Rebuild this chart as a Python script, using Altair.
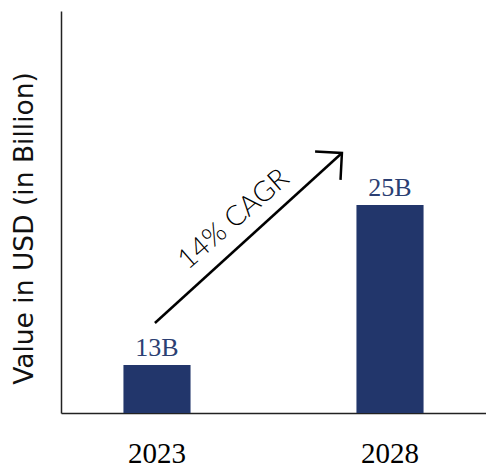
import altair as alt
import pandas as pd

years = ["2023", "2028"]
values = [13, 25]
labels = ["13B", "25B"]

# annotation (arrow + CAGR text), x as fraction of plot width, y in value units
arrow_x = [0.221, 0.661]
arrow_y = [16.15, 28.9]
cagr_text = ["14% CAGR"]
cagr_x = [0.407]
cagr_y = [23.9]

Y_MIN, Y_MAX = 9.4, 39.55
NAVY = "#22366b"

bars_df = pd.DataFrame({"year": years, "value": values, "label": labels})
arrow_df = pd.DataFrame({"fx": arrow_x, "fy": arrow_y})
head_df = arrow_df.iloc[[-1]]
text_df = pd.DataFrame({"fx": cagr_x, "fy": cagr_y, "t": cagr_text})

xband = alt.X("year:N", sort=years,
              scale=alt.Scale(paddingInner=0.712, paddingOuter=0.268),
              axis=alt.Axis(title=None, labelAngle=0, ticks=False, labelPadding=26,
                            labelFont="Liberation Serif", labelFontSize=29,
                            labelColor="#000000", domainColor="#222222", domainWidth=1.5))
yenc = alt.Y("value:Q", scale=alt.Scale(domain=[Y_MIN, Y_MAX], nice=False, zero=False),
             axis=alt.Axis(title="Value in USD (in Billion)", labels=False, ticks=False,
                           grid=False, domainColor="#222222", domainWidth=1.5,
                           titleFont="DejaVu Sans", titleFontSize=26.5, titleFontWeight="normal",
                           titleColor="#111111", titleX=-37, titleY=217,
                           titleBaseline="middle", titleAlign="center", titleAngle=270))

bars = alt.Chart(bars_df).mark_bar(color=NAVY).encode(
    x=xband, y=yenc, y2=alt.Y2(datum=Y_MIN))
bar_text = alt.Chart(bars_df).mark_text(
    baseline="bottom", dy=-4, font="Liberation Serif", fontSize=26, color="#2b3f73"
).encode(x=alt.X("year:N", sort=years), y=alt.Y("value:Q"), text="label:N")

base = alt.layer(bars, bar_text)

fx = alt.X("fx:Q", scale=alt.Scale(domain=[0, 1], nice=False, zero=False), axis=None)
fy = alt.Y("fy:Q", scale=alt.Scale(domain=[Y_MIN, Y_MAX], nice=False, zero=False), axis=None)

arrow_line = alt.Chart(arrow_df).mark_line(color="#000000", strokeWidth=2.5).encode(x=fx, y=fy)
arrow_head = alt.Chart(head_df).mark_point(
    shape="M-1,1L0,0L1,1", angle=48, size=1444, filled=False,
    color="#000000", strokeWidth=2.5, opacity=1
).encode(x=fx, y=fy)
cagr = alt.Chart(text_df).mark_text(
    font="Lato", fontWeight=300, fontSize=28, angle=319, align="center",
    baseline="middle", color="#000000"
).encode(x=fx, y=fy, text="t:N")

annot = alt.layer(arrow_line, arrow_head, cagr)

chart = alt.layer(base, annot).resolve_scale(x="independent", y="independent").resolve_axis(
    x="independent", y="independent").properties(
    width=425, height=402,
    autosize=alt.AutoSizeParams(type="none"),
    padding={"left": 61, "top": 11, "right": 0, "bottom": 54},
    background="#ffffff",
).configure_view(stroke=None)

chart.save("out.html", embed_options={"renderer": "svg", "actions": False})
